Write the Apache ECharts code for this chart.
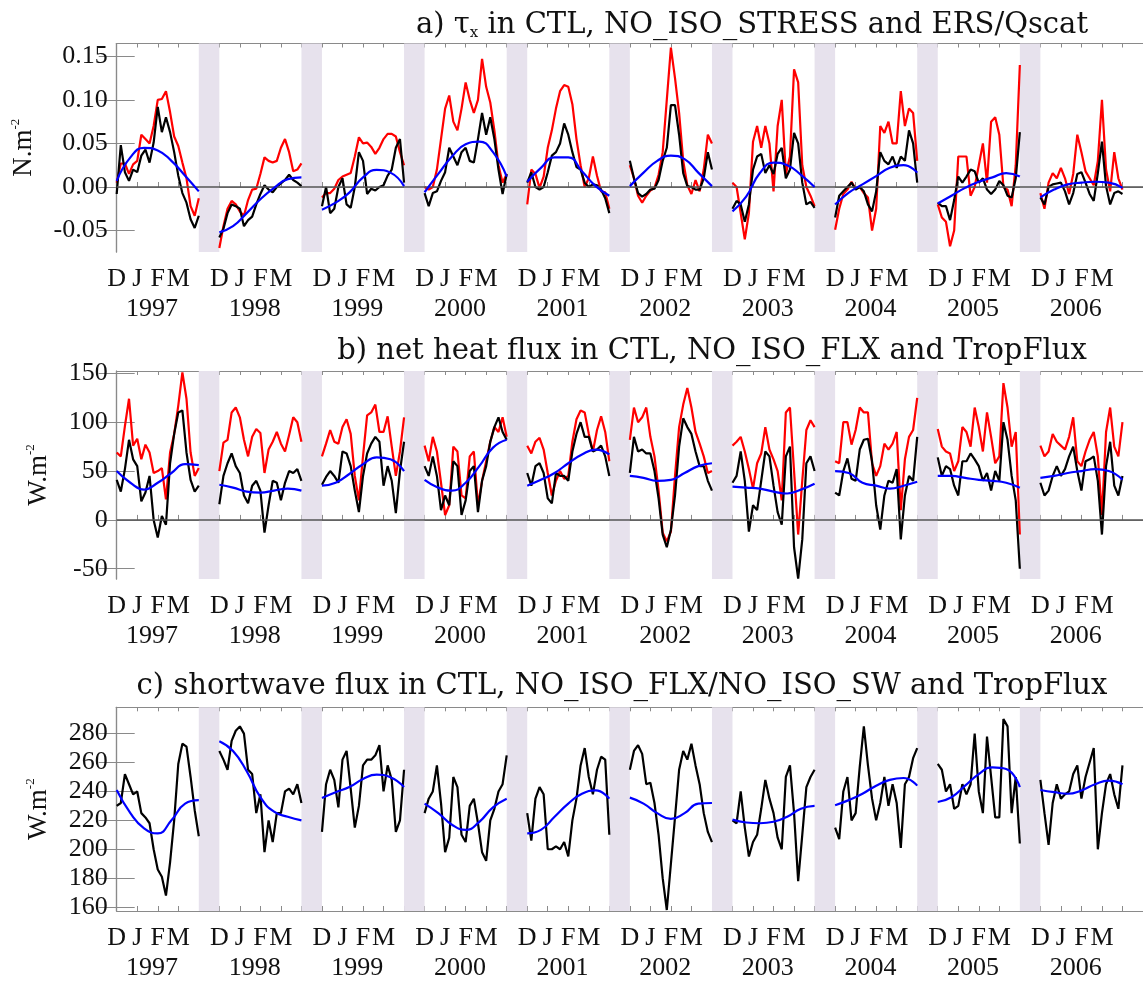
<!DOCTYPE html>
<html><head><meta charset="utf-8">
<script src="https://cdn.jsdelivr.net/npm/echarts@6/dist/echarts.min.js"></script>
<style>html,body{margin:0;padding:0;background:#fff}#c{width:1143px;height:981px}</style>
</head><body><div id="c"></div>
<script>
// ---------- categories / labels ----------
const years = ['1997','1998','1999','2000','2001','2002','2003','2004','2005','2006'];
const monthLabels = ['D','J','F','M'];
const tauTicks = [-0.05, 0, 0.05, 0.10, 0.15];
const qnetTicks = [-50, 0, 50, 100, 150];
const swTicks = [160, 180, 200, 220, 240, 260, 280];

// ---------- panel a: zonal wind stress (N m-2) ----------
const tauCTL = [
 [-0.008,0.048,0.017,0.007,0.02,0.017,0.036,0.043,0.028,0.051,0.092,0.063,0.08,0.063,0.04,0.013,-0.007,-0.018,-0.037,-0.047,-0.033],
 [-0.058,-0.048,-0.03,-0.02,-0.022,-0.025,-0.045,-0.038,-0.034,-0.02,-0.008,0.002,-0.003,-0.006,0.0,0.004,0.008,0.014,0.008,0.005,0.001],
 [-0.022,0.0,-0.03,-0.025,0.0,0.01,-0.02,-0.024,0.0,0.04,0.03,-0.008,-0.002,-0.004,0.0,0.002,0.013,0.02,0.045,0.055,0.005],
 [-0.007,-0.022,-0.007,-0.005,0.007,0.017,0.045,0.035,0.025,0.04,0.045,0.03,0.028,0.055,0.085,0.06,0.08,0.055,0.02,-0.008,0.015],
 [0.005,0.017,0.0,-0.003,0.0,0.017,0.036,0.04,0.05,0.073,0.06,0.04,0.023,0.02,0.005,0.0,0.003,0.002,-0.003,-0.013,-0.03],
 [0.03,0.01,-0.007,-0.011,-0.008,-0.003,-0.002,0.008,0.03,0.045,0.094,0.094,0.06,0.016,0.001,0.0,-0.003,-0.003,0.01,0.04,0.02],
 [-0.025,-0.016,-0.02,-0.04,-0.02,0.02,0.035,0.038,0.016,0.025,0.015,0.038,0.045,0.01,0.02,0.062,0.05,0.005,-0.02,-0.017,-0.024],
 [-0.035,-0.01,-0.005,0.0,0.005,-0.003,0.0,-0.005,-0.02,-0.028,-0.005,0.04,0.03,0.026,0.035,0.022,0.035,0.03,0.065,0.05,0.005],
 [-0.018,-0.022,-0.022,-0.038,-0.015,0.012,0.005,0.012,0.02,0.018,0.005,0.01,-0.003,-0.008,-0.003,0.007,0.002,-0.01,-0.012,0.01,0.063],
 [-0.012,-0.02,0.0,0.003,0.004,0.005,-0.005,-0.02,-0.007,0.015,0.017,0.005,-0.008,-0.016,0.016,0.052,0.001,-0.02,-0.007,-0.005,-0.008]
];
const tauObs = [
 [0.005,0.027,0.027,0.015,0.026,0.03,0.06,0.055,0.05,0.07,0.1,0.101,0.11,0.086,0.058,0.047,0.028,0.01,-0.022,-0.033,-0.013],
 [-0.07,-0.045,-0.025,-0.016,-0.02,-0.028,-0.033,-0.015,-0.003,-0.002,0.015,0.034,0.03,0.028,0.03,0.045,0.055,0.04,0.018,0.02,0.027],
 [-0.012,-0.007,-0.007,-0.002,0.008,0.012,0.014,0.016,0.035,0.057,0.05,0.051,0.046,0.038,0.045,0.055,0.061,0.061,0.058,0.04,0.025],
 [0.0,-0.003,0.0,0.02,0.055,0.09,0.105,0.075,0.065,0.09,0.12,0.1,0.085,0.1,0.147,0.115,0.097,0.065,0.025,0.005,0.015],
 [-0.02,0.02,0.015,-0.001,0.012,0.045,0.065,0.09,0.11,0.117,0.115,0.095,0.055,0.025,0.0,0.01,0.035,0.013,-0.005,-0.006,-0.025],
 [0.025,0.01,-0.01,-0.018,-0.01,-0.004,-0.001,0.014,0.04,0.1,0.16,0.125,0.085,0.03,0.002,-0.008,0.008,-0.005,0.02,0.06,0.05],
 [0.005,0.0,-0.03,-0.06,-0.03,0.052,0.07,0.045,0.07,0.05,-0.005,0.07,0.1,0.015,0.035,0.135,0.12,0.025,0.0,-0.01,-0.022],
 [-0.049,-0.025,-0.008,-0.003,0.006,-0.002,0.0,-0.007,-0.012,-0.05,-0.025,0.07,0.062,0.075,0.05,0.05,0.11,0.07,0.09,0.085,0.03],
 [-0.02,-0.035,-0.04,-0.068,-0.05,0.035,0.035,0.035,-0.01,0.0,0.025,0.05,0.005,0.075,0.08,0.06,0.0,-0.003,-0.022,0.025,0.14],
 [-0.007,-0.025,0.005,0.016,0.01,0.022,0.01,-0.008,0.015,0.06,0.04,0.018,0.01,0.002,0.03,0.1,0.02,-0.005,0.04,0.01,-0.003]
];
const tauFit = [
 [0.007,0.034,0.045,0.042,0.03,0.013,-0.005],
 [-0.052,-0.045,-0.03,-0.014,-0.001,0.009,0.011],
 [-0.026,-0.018,-0.0065,0.011,0.0196,0.0165,0.001],
 [-0.006,0.015,0.035,0.049,0.052,0.04,0.012],
 [0.006,0.022,0.034,0.034,0.018,0.001,-0.01],
 [0.001,0.0165,0.03,0.036,0.032,0.0165,0.001],
 [-0.028,-0.011,0.016,0.028,0.025,0.014,0.0],
 [-0.02,-0.0065,0.003,0.0125,0.022,0.025,0.0165],
 [-0.019,-0.01,-0.001,0.006,0.011,0.016,0.012],
 [-0.012,-0.003,0.003,0.005,0.006,0.005,-0.001]
];

// ---------- panel b: net heat flux (W m-2) ----------
const qnetCTL = [
 [41,29,52,82,62,55,19,28,45,0,-18,4,-5,58,88,110,112,69,41,29,35],
 [16,45,58,68,55,48,25,17,35,40,30,-13,15,40,38,20,38,50,48,52,40],
 [36,44,50,45,38,70,68,55,30,8,45,68,78,85,80,35,55,40,7,50,80],
 [55,45,65,45,10,25,15,60,55,5,20,50,55,8,40,55,80,95,105,90,82],
 [48,35,55,58,48,22,17,48,45,45,40,70,88,100,85,85,70,72,76,65,45],
 [48,85,70,72,68,68,50,22,-15,-28,-10,25,75,104,95,88,70,55,55,40,30],
 [38,45,70,40,-12,15,10,40,70,65,35,8,-5,65,75,-28,-60,-20,58,65,50],
 [28,25,50,63,42,40,72,82,83,60,15,-10,25,40,38,52,-20,25,45,40,85],
 [64,45,55,52,35,25,60,60,68,62,55,40,48,30,50,40,100,82,45,20,-50],
 [38,25,30,45,55,45,52,65,75,50,30,60,62,65,40,-15,55,80,35,25,45]
];
const qnetObs = [
 [69,65,96,124,76,83,62,77,69,48,50,53,21,69,88,117,151,124,69,45,53],
 [50,79,82,110,115,105,82,65,85,93,89,48,72,80,90,78,70,87,105,100,80],
 [65,78,92,80,78,95,103,88,45,20,65,107,110,118,90,90,106,75,45,70,105],
 [76,60,85,70,38,5,15,75,70,25,22,65,70,15,40,60,80,95,90,105,85],
 [76,68,80,84,72,48,25,40,50,42,45,80,103,112,110,88,70,92,106,90,60],
 [82,115,100,105,115,85,65,30,-13,-22,-12,45,95,118,135,115,90,78,65,48,50],
 [76,80,85,70,52,32,58,68,95,72,62,50,20,110,115,50,-15,40,92,102,95],
 [60,58,100,100,77,92,115,110,110,58,45,55,78,72,78,90,10,62,85,92,125],
 [93,75,70,68,50,60,95,90,75,115,95,70,110,85,58,65,140,115,75,90,-15],
 [76,65,70,88,80,76,72,85,105,60,55,70,82,90,65,5,90,115,75,65,100]
];
const qnetFit = [
 [50,38,31,38,48,57,56],
 [36,33,29,28,30,32,30],
 [35,38,47,57,64,62,50],
 [41,33,30,38,55,74,82],
 [35,41,48,58,67,72,67],
 [45,43,40,41,48,55,58],
 [34,33,32,29,27,31,37],
 [50,48,38,35,32,35,39],
 [45,45,43,41,40,38,33],
 [43,45,48,50,52,50,41]
];

// ---------- panel c: shortwave flux (W m-2) ----------
const swCTL = [
 [230,232,252,245,238,240,225,222,218,200,186,181,168,191,220,259,273,271,250,227,209],
 [268,262,255,275,282,285,280,255,252,225,238,198,220,205,225,225,240,242,238,245,232],
 [212,245,255,248,229,262,268,242,215,230,258,262,262,265,272,240,258,248,212,220,255],
 [225,235,240,258,232,198,208,250,243,210,205,230,235,218,198,192,220,228,240,245,265],
 [225,206,235,243,238,200,200,202,200,205,195,220,235,258,270,250,238,255,264,262,210],
 [255,268,272,266,245,246,232,210,180,158,190,222,255,268,262,273,258,245,225,212,205],
 [220,218,240,215,195,205,210,228,248,235,225,208,200,250,258,225,178,210,243,250,255],
 [215,207,240,250,220,225,257,285,258,235,220,232,250,230,245,232,201,245,250,263,270],
 [259,255,240,245,228,230,245,238,245,280,240,225,278,250,222,222,290,285,225,250,204],
 [248,225,203,232,245,235,238,240,252,258,235,250,260,270,200,225,245,252,238,228,258]
];
const swFit = [
 [241,225,214.5,211,220,231.6,234],
 [274.8,268,254,236,226,222.5,220],
 [235.5,239.5,243,248.6,251.6,249.8,243],
 [231.6,225,217,213.4,219,229,235],
 [211,213.4,222.5,231.6,238.4,240.7,235],
 [235.7,231.6,225,221,225,231.6,232],
 [220.5,218.5,218,219,222.5,228,230],
 [230.5,234,238.4,244,248,249.3,244],
 [232.7,236,244,252,256.6,255.5,243],
 [241,239.5,238.4,240.7,245,247.5,245]
];

// ---------- building ----------
const FONT = '"Liberation Serif","DejaVu Serif",serif';
const TFONT = '"DejaVu Serif","Liberation Serif",serif';
const SLOT = 5, STEP = 0.2, FITSTEP = 4 / 6;
function build(arr, step) {
  const d = [];
  arr.forEach((ys, i) => {
    ys.forEach((v, j) => d.push([SLOT * i + j * step, v]));
    d.push([SLOT * i + 4.5, '-']);
  });
  return d;
}
const monthPos = [];
years.forEach((y, i) => monthLabels.forEach((m, k) => monthPos.push(SLOT * i + k)));
const yearPos = years.map((y, i) => SLOT * i + 1.72);
const bands = years.slice(0, years.length - 1).map((y, i) => [{ xAxis: SLOT * i + 4 }, { xAxis: SLOT * i + 5 }]);

const panels = [
  { top: 43.5, height: 208.5, min: -0.0746, max: 0.1647, ticks: tauTicks, fmt: v => v.toFixed(2), name: 'N.m{s|-2}', gap: 78,
    ctl: tauCTL, obs: tauObs, fit: tauFit, zero: true,
    title: 'a) τ{b|x} in CTL, NO_ISO_STRESS and ERS/Qscat', tc: 747, tt: 4 },
  { top: 371, height: 208, min: -60.5, max: 152.4, ticks: qnetTicks, fmt: v => String(v), name: 'W.m{s|-2}', gap: 63,
    ctl: qnetCTL, obs: qnetObs, fit: qnetFit, zero: true,
    title: 'b) net heat flux in CTL, NO_ISO_FLX and TropFlux', tc: 707, tt: 330 },
  { top: 707.3, height: 206.7, min: 157.3, max: 298.2, ticks: swTicks, fmt: v => String(v), name: 'W.m{s|-2}', gap: 63,
    ctl: swCTL, obs: null, fit: swFit, zero: false,
    title: 'c) shortwave flux in CTL, NO_ISO_FLX/NO_ISO_SW and TropFlux', tc: 617, tt: 665 }
];

const FRAME = '#8a8a8a';
const option = { animation: false, backgroundColor: '#fff', grid: [], xAxis: [], yAxis: [], series: [], title: [] };
panels.forEach((p, k) => {
  option.grid.push({ left: 116.7, top: p.top, width: 1029, height: p.height, containLabel: false });
  option.title.push({
    text: p.title, left: p.tc, top: p.tt, textAlign: 'center',
    textStyle: { fontFamily: TFONT, fontSize: 29, fontWeight: 'normal', color: '#111', lineHeight: 32,
      rich: { b: { fontFamily: TFONT, fontSize: 15, lineHeight: 15, verticalAlign: 'bottom', color: '#111' } } }
  });
  const xb = { gridIndex: k, type: 'value', min: 0, max: 50, interval: 1 };
  option.xAxis.push(Object.assign({}, xb, {
    position: 'bottom',
    axisLine: { show: true, lineStyle: { color: FRAME, width: 1.2 } },
    axisTick: { show: true, inside: true, length: 5, lineStyle: { color: FRAME } },
    axisLabel: { customValues: monthPos, formatter: v => monthLabels[Math.round(v) % SLOT], fontFamily: FONT, fontSize: 26, color: '#111', margin: 14 },
    splitLine: { show: false }
  }));
  option.xAxis.push(Object.assign({}, xb, {
    position: 'bottom', offset: 0,
    axisLine: { show: false }, axisTick: { show: false },
    axisLabel: { customValues: yearPos, formatter: v => years[Math.floor(v / SLOT)], fontFamily: FONT, fontSize: 26, color: '#111', margin: 44 },
    splitLine: { show: false }
  }));
  option.xAxis.push(Object.assign({}, xb, {
    position: 'top',
    axisLine: { show: true, lineStyle: { color: FRAME, width: 1.2 } },
    axisTick: { show: true, inside: true, length: 4, lineStyle: { color: FRAME } },
    axisLabel: { show: false }, splitLine: { show: false }
  }));
  option.yAxis.push({
    gridIndex: k, type: 'value', min: p.min, max: p.max, position: 'left',
    axisLine: { show: true, lineStyle: { color: FRAME, width: 1.2 } },
    axisTick: { show: true, inside: true, length: 18, customValues: p.ticks, lineStyle: { color: FRAME } },
    axisLabel: { customValues: p.ticks, formatter: p.fmt, fontFamily: FONT, fontSize: 26, color: '#111', margin: 9 },
    splitLine: { show: false },
    name: p.name, nameLocation: 'middle', nameRotate: 90, nameGap: p.gap,
    nameTextStyle: { fontFamily: FONT, fontSize: 27, color: '#111', lineHeight: 30,
      rich: { s: { fontFamily: FONT, fontSize: 13, lineHeight: 13, verticalAlign: 'top', color: '#111' } } }
  });
  option.yAxis.push({
    gridIndex: k, type: 'value', min: p.min, max: p.max, position: 'right',
    axisLine: { show: true, lineStyle: { color: FRAME, width: 1.2 } },
    axisTick: { show: true, inside: true, length: 18, customValues: p.ticks, lineStyle: { color: FRAME } },
    axisLabel: { show: false }, splitLine: { show: false }
  });
  const xi = k * 3, yi = k * 2;
  option.series.push({
    type: 'line', xAxisIndex: xi, yAxisIndex: yi, data: [], silent: true, z: 1,
    markArea: { silent: true, itemStyle: { color: '#e7e2ed' }, data: bands }
  });
  if (p.obs) {
    option.series.push({ type: 'line', xAxisIndex: xi, yAxisIndex: yi, data: build(p.obs, STEP), showSymbol: false,
      lineStyle: { color: '#ff0000', width: 2.2 }, connectNulls: false, z: 3 });
  }
  const ctl = { type: 'line', xAxisIndex: xi, yAxisIndex: yi, data: build(p.ctl, STEP), showSymbol: false,
    lineStyle: { color: '#000000', width: 2.2 }, connectNulls: false, z: 4 };
  if (p.zero) {
    ctl.markLine = { silent: true, symbol: ['none', 'none'], label: { show: false },
      lineStyle: { color: '#555', width: 1.5, type: 'solid' }, data: [{ yAxis: 0 }] };
  }
  option.series.push(ctl);
  option.series.push({ type: 'line', xAxisIndex: xi, yAxisIndex: yi, data: build(p.fit, FITSTEP), showSymbol: false, smooth: 0.5,
    lineStyle: { color: '#0000ff', width: 2.2 }, connectNulls: false, z: 5 });
});

const chart = echarts.init(document.getElementById('c'), null, { renderer: 'canvas' });
chart.setOption(option);
</script>
</body></html>
